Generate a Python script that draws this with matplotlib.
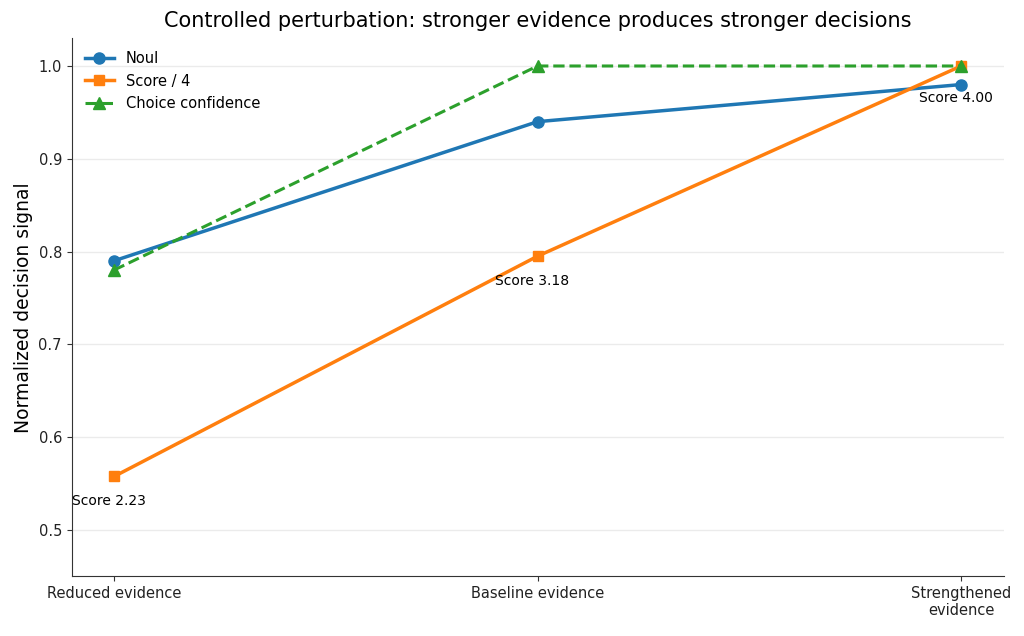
import matplotlib
matplotlib.use("Agg")
import matplotlib.pyplot as plt
import numpy as np

conditions = ["Reduced evidence", "Baseline evidence", "Strengthened\nevidence"]
noul = [0.79, 0.94, 0.98]
scores = [2.23, 3.18, 4.00]
choice_conf = [0.78, 1.0, 1.0]

score_norm = [s / 4 for s in scores]
x = np.arange(len(conditions))

fig, ax = plt.subplots(figsize=(10.24, 6.36), dpi=100)

ax.plot(x, noul, color="#1f77b4", lw=2.5, marker="o", ms=8, label="Noul")
ax.plot(x, score_norm, color="#ff7f0e", lw=2.5, marker="s", ms=7, label="Score / 4")
ax.plot(x, choice_conf, color="#2ca02c", lw=2.2, ls="--", marker="^", ms=8,
        label="Choice confidence")

label_offsets = [-18, -18, -23]
for xi, yi, s, dy in zip(x, score_norm, scores, label_offsets):
    ax.annotate("Score {:.2f}".format(s), (xi, yi), xytext=(-4, dy),
                textcoords="offset points", ha="center", va="center", fontsize=10)

ax.set_xticks(x)
ax.set_xticklabels(conditions)
ax.set_xlim(-0.1, 2.1)
ax.set_ylim(0.45, 1.03)
ax.set_yticks([0.5, 0.6, 0.7, 0.8, 0.9, 1.0])
ax.set_yticklabels(["0.5", "0.6", "0.7", "0.8", "0.9", "1.0"])
ax.tick_params(labelsize=10.5, color="#333333", labelcolor="#222222")
ax.set_ylabel("Normalized decision signal", fontsize=13.5)
ax.set_title("Controlled perturbation: stronger evidence produces stronger decisions",
             fontsize=15, pad=8)
ax.grid(axis="y", color="#ebebeb", lw=1)
ax.set_axisbelow(True)
ax.spines["top"].set_visible(False)
ax.spines["right"].set_visible(False)
for side in ["left", "bottom"]:
    ax.spines[side].set_color("#333333")
ax.legend(loc="upper left", frameon=False, fontsize=10.5)

plt.subplots_adjust(left=0.07, right=0.98, top=0.94, bottom=0.094)
fig.savefig("out.png", dpi=100)
